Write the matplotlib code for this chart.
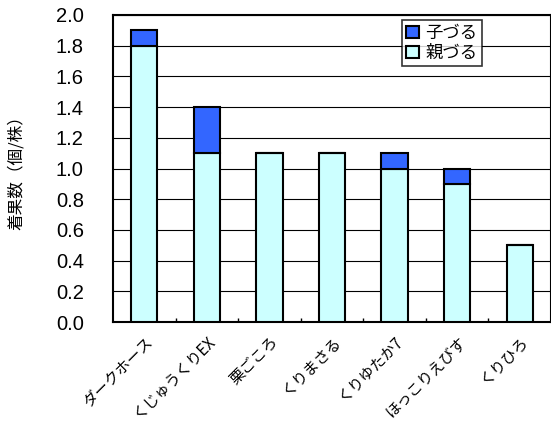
import numpy as np
import matplotlib
matplotlib.use("Agg")
from matplotlib import pyplot as plt

plt.rcParams['font.family'] = ['Noto Sans CJK JP', 'DejaVu Sans']

varieties = ["ダークホース", "くじゅうくりEX", "栗ごころ", "くりまさる", "くりゆたか7", "ほっこりえびす", "くりひろ"]
parent = [1.8, 1.1, 1.1, 1.1, 1.0, 0.9, 0.5]   # 親づる
child = [0.1, 0.3, 0.0, 0.0, 0.1, 0.1, 0.0]    # 子づる

fig = plt.figure(figsize=(5.51, 4.34), dpi=100)
ax = fig.add_axes([113 / 551, 1 - 322 / 434, 438 / 551, 307 / 434])

x = np.arange(len(varieties))
w = 0.42
ax.bar(x, parent, w, color="#CCFFFF", edgecolor="black", linewidth=1.5, label="親づる", zorder=3)
ax.bar(x, child, w, bottom=parent, color="#3366FF", edgecolor="black", linewidth=1.5, label="子づる", zorder=3)

ax.set_xlim(-0.5, len(varieties) - 0.5)
ax.set_ylim(0, 2.0)
ax.set_yticks(np.arange(0, 2.01, 0.2))
ax.set_yticklabels([f"{v:.1f}" for v in np.arange(0, 2.01, 0.2)], family="Liberation Sans", fontsize=14.5)
ax.yaxis.grid(True, color="black", linewidth=0.8, zorder=0)
ax.tick_params(axis="y", length=0, pad=21)

ax.set_xticks(x)
ax.set_xticklabels(varieties, rotation=45, ha="right", rotation_mode="anchor", fontsize=11)
ax.tick_params(axis="x", which="major", length=0, pad=8)
ax.set_xticks(np.arange(0.5, len(varieties) - 0.5, 1), minor=True)
ax.tick_params(axis="x", which="minor", direction="in", length=3, width=1)

for s in ax.spines.values():
    s.set_linewidth(1.5)

ax.set_ylabel("着果数（個/株）", fontsize=12, labelpad=22)

handles, labels = ax.get_legend_handles_labels()
leg = ax.legend(handles[::-1], labels[::-1], loc="upper left", bbox_to_anchor=(0.66, 0.985),
                fontsize=12.5, frameon=True, fancybox=False, edgecolor="black",
                handlelength=0.7, handleheight=0.7, handletextpad=0.4,
                borderpad=0.25, labelspacing=0.1, borderaxespad=0)
leg.get_frame().set_linewidth(1.2)

fig.savefig("out.png", dpi=100)
